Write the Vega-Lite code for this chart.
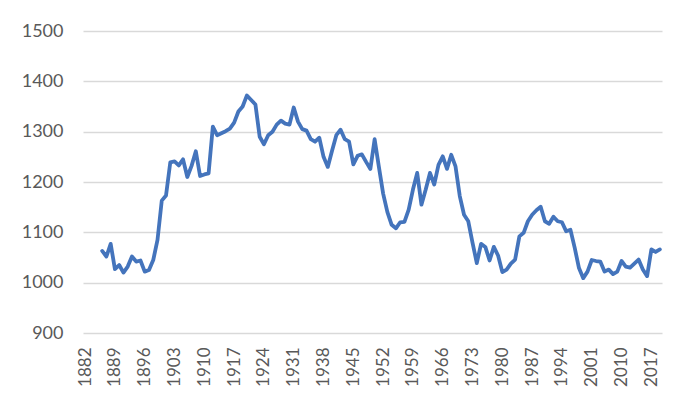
{
  "$schema": "https://vega.github.io/schema/vega-lite/v6.json",
  "width": 579,
  "height": 302,
  "autosize": "none",
  "padding": {"left": 83, "top": 31, "right": 34, "bottom": 80},
  "background": "white",
  "data": {
    "values": [
      {"year": "1886", "value": 1063}, {"year": "1887", "value": 1052}, {"year": "1888", "value": 1077},
      {"year": "1889", "value": 1027}, {"year": "1890", "value": 1035}, {"year": "1891", "value": 1020},
      {"year": "1892", "value": 1032}, {"year": "1893", "value": 1052}, {"year": "1894", "value": 1042},
      {"year": "1895", "value": 1044}, {"year": "1896", "value": 1022}, {"year": "1897", "value": 1025},
      {"year": "1898", "value": 1045}, {"year": "1899", "value": 1085}, {"year": "1900", "value": 1163},
      {"year": "1901", "value": 1173}, {"year": "1902", "value": 1239}, {"year": "1903", "value": 1241},
      {"year": "1904", "value": 1233}, {"year": "1905", "value": 1245}, {"year": "1906", "value": 1210},
      {"year": "1907", "value": 1232}, {"year": "1908", "value": 1261}, {"year": "1909", "value": 1212},
      {"year": "1910", "value": 1215}, {"year": "1911", "value": 1217}, {"year": "1912", "value": 1310},
      {"year": "1913", "value": 1293}, {"year": "1914", "value": 1297}, {"year": "1915", "value": 1301},
      {"year": "1916", "value": 1306}, {"year": "1917", "value": 1318}, {"year": "1918", "value": 1340},
      {"year": "1919", "value": 1350}, {"year": "1920", "value": 1372}, {"year": "1921", "value": 1363},
      {"year": "1922", "value": 1354}, {"year": "1923", "value": 1290}, {"year": "1924", "value": 1275},
      {"year": "1925", "value": 1293}, {"year": "1926", "value": 1300}, {"year": "1927", "value": 1314},
      {"year": "1928", "value": 1322}, {"year": "1929", "value": 1316}, {"year": "1930", "value": 1314},
      {"year": "1931", "value": 1348}, {"year": "1932", "value": 1320}, {"year": "1933", "value": 1305},
      {"year": "1934", "value": 1302}, {"year": "1935", "value": 1285}, {"year": "1936", "value": 1280},
      {"year": "1937", "value": 1288}, {"year": "1938", "value": 1250}, {"year": "1939", "value": 1230},
      {"year": "1940", "value": 1262}, {"year": "1941", "value": 1293}, {"year": "1942", "value": 1304},
      {"year": "1943", "value": 1285}, {"year": "1944", "value": 1280}, {"year": "1945", "value": 1235},
      {"year": "1946", "value": 1252}, {"year": "1947", "value": 1255}, {"year": "1948", "value": 1240},
      {"year": "1949", "value": 1226}, {"year": "1950", "value": 1285}, {"year": "1951", "value": 1230},
      {"year": "1952", "value": 1177}, {"year": "1953", "value": 1140}, {"year": "1954", "value": 1115},
      {"year": "1955", "value": 1108}, {"year": "1956", "value": 1120}, {"year": "1957", "value": 1121},
      {"year": "1958", "value": 1145}, {"year": "1959", "value": 1185}, {"year": "1960", "value": 1218},
      {"year": "1961", "value": 1155}, {"year": "1962", "value": 1185}, {"year": "1963", "value": 1218},
      {"year": "1964", "value": 1195}, {"year": "1965", "value": 1234}, {"year": "1966", "value": 1251},
      {"year": "1967", "value": 1226}, {"year": "1968", "value": 1254}, {"year": "1969", "value": 1231},
      {"year": "1970", "value": 1172}, {"year": "1971", "value": 1135}, {"year": "1972", "value": 1122},
      {"year": "1973", "value": 1079}, {"year": "1974", "value": 1039}, {"year": "1975", "value": 1077},
      {"year": "1976", "value": 1071}, {"year": "1977", "value": 1044}, {"year": "1978", "value": 1071},
      {"year": "1979", "value": 1054}, {"year": "1980", "value": 1021}, {"year": "1981", "value": 1026},
      {"year": "1982", "value": 1038}, {"year": "1983", "value": 1046}, {"year": "1984", "value": 1092},
      {"year": "1985", "value": 1099}, {"year": "1986", "value": 1122}, {"year": "1987", "value": 1135},
      {"year": "1988", "value": 1144}, {"year": "1989", "value": 1151}, {"year": "1990", "value": 1122},
      {"year": "1991", "value": 1117}, {"year": "1992", "value": 1131}, {"year": "1993", "value": 1122},
      {"year": "1994", "value": 1120}, {"year": "1995", "value": 1102}, {"year": "1996", "value": 1105},
      {"year": "1997", "value": 1069}, {"year": "1998", "value": 1029}, {"year": "1999", "value": 1009},
      {"year": "2000", "value": 1022}, {"year": "2001", "value": 1045}, {"year": "2002", "value": 1043},
      {"year": "2003", "value": 1042}, {"year": "2004", "value": 1022}, {"year": "2006", "value": 1026},
      {"year": "2007", "value": 1017}, {"year": "2009", "value": 1022}, {"year": "2010", "value": 1043},
      {"year": "2011", "value": 1032}, {"year": "2012", "value": 1030}, {"year": "2013", "value": 1038},
      {"year": "2014", "value": 1046}, {"year": "2015", "value": 1026}, {"year": "2016", "value": 1013},
      {"year": "2017", "value": 1066}, {"year": "2018", "value": 1061}, {"year": "2019", "value": 1066}
    ]
  },
  "mark": {
    "type": "line",
    "color": "#4474BC",
    "strokeWidth": 3.8,
    "strokeJoin": "round",
    "strokeCap": "round"
  },
  "encoding": {
    "x": {
      "field": "year",
      "type": "ordinal",
      "sort": null,
      "scale": {
        "type": "point",
        "padding": 0.5,
        "domain": [
          "1882", "1883", "1884", "1885", "1886", "1887", "1888", "1889", "1890", "1891",
          "1892", "1893", "1894", "1895", "1896", "1897", "1898", "1899", "1900", "1901",
          "1902", "1903", "1904", "1905", "1906", "1907", "1908", "1909", "1910", "1911",
          "1912", "1913", "1914", "1915", "1916", "1917", "1918", "1919", "1920", "1921",
          "1922", "1923", "1924", "1925", "1926", "1927", "1928", "1929", "1930", "1931",
          "1932", "1933", "1934", "1935", "1936", "1937", "1938", "1939", "1940", "1941",
          "1942", "1943", "1944", "1945", "1946", "1947", "1948", "1949", "1950", "1951",
          "1952", "1953", "1954", "1955", "1956", "1957", "1958", "1959", "1960", "1961",
          "1962", "1963", "1964", "1965", "1966", "1967", "1968", "1969", "1970", "1971",
          "1972", "1973", "1974", "1975", "1976", "1977", "1978", "1979", "1980", "1981",
          "1982", "1983", "1984", "1985", "1986", "1987", "1988", "1989", "1990", "1991",
          "1992", "1993", "1994", "1995", "1996", "1997", "1998", "1999", "2000", "2001",
          "2002", "2003", "2004", "2006", "2007", "2009", "2010", "2011", "2012", "2013",
          "2014", "2015", "2016", "2017", "2018", "2019"
        ]
      },
      "axis": {
        "title": null,
        "values": ["1882", "1889", "1896", "1903", "1910", "1917", "1924", "1931", "1938", "1945",
                   "1952", "1959", "1966", "1973", "1980", "1987", "1994", "2001", "2010", "2017"],
        "labelAngle": -90,
        "labelPadding": 14,
        "labelFontSize": 17,
        "labelColor": "#595959",
        "domain": false,
        "ticks": false,
        "grid": false
      }
    },
    "y": {
      "field": "value",
      "type": "quantitative",
      "scale": {"domain": [900, 1500], "nice": false, "zero": false},
      "axis": {
        "title": null,
        "values": [900, 1000, 1100, 1200, 1300, 1400, 1500],
        "format": "d",
        "labelPadding": 20,
        "labelFontSize": 18,
        "labelColor": "#595959",
        "domain": false,
        "ticks": false,
        "grid": true,
        "gridColor": "#d9d9d9",
        "gridWidth": 1.3
      }
    }
  },
  "config": {
    "font": "Lato",
    "view": {"stroke": null}
  }
}
